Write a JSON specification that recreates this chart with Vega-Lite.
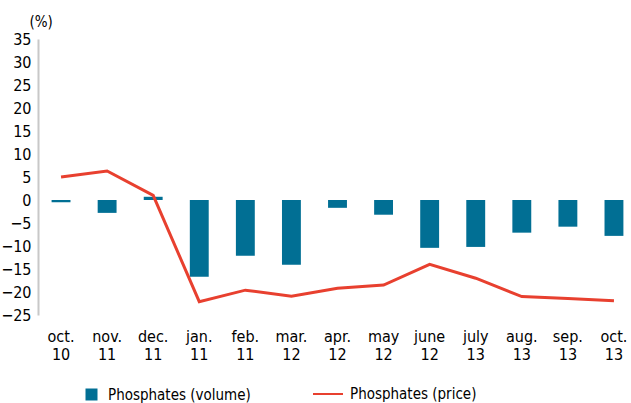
{
  "$schema": "https://vega.github.io/schema/vega-lite/v6.json",
  "autosize": "none",
  "padding": {"left": 38, "top": 39, "right": 0, "bottom": 88},
  "width": 599,
  "height": 276,
  "title": {
    "text": "Exports",
    "font": "DejaVu Serif",
    "fontSize": 22,
    "fontWeight": "bold",
    "color": "#000000",
    "anchor": "middle",
    "baseline": "alphabetic",
    "offset": 38,
    "dx": -22
  },
  "config": {
    "view": {"stroke": null},
    "font": "DejaVu Sans Condensed, DejaVu Sans, sans-serif",
    "axis": {"grid": false, "labelOverlap": false, "labelFont": "DejaVu Sans Condensed, DejaVu Sans, sans-serif", "titleFont": "DejaVu Sans Condensed, DejaVu Sans, sans-serif"},
    "axisY": {"labelOverlap": false},
    "legend": {"labelFont": "DejaVu Sans Condensed, DejaVu Sans, sans-serif"}
  },
  "data": {
    "values": [
      {"month": "oct. 10", "volume": -0.5, "price": 5.0},
      {"month": "nov. 11", "volume": -2.8, "price": 6.3},
      {"month": "dec. 11", "volume": 0.7, "price": 1.0},
      {"month": "jan. 11", "volume": -16.7, "price": -22.1},
      {"month": "feb. 11", "volume": -12.1, "price": -19.6},
      {"month": "mar. 12", "volume": -14.1, "price": -20.9},
      {"month": "apr. 12", "volume": -1.7, "price": -19.2},
      {"month": "may 12", "volume": -3.2, "price": -18.5},
      {"month": "june 12", "volume": -10.4, "price": -14.0},
      {"month": "july 13", "volume": -10.2, "price": -17.0},
      {"month": "aug. 13", "volume": -7.1, "price": -21.0},
      {"month": "sep. 13", "volume": -5.8, "price": -21.4},
      {"month": "oct. 13", "volume": -7.8, "price": -21.9}
    ]
  },
  "encoding": {
    "x": {
      "field": "month",
      "type": "nominal",
      "sort": null,
      "scale": {"paddingInner": 0.59, "paddingOuter": 0.295},
      "axis": {
        "title": null,
        "domain": false,
        "ticks": false,
        "labelAngle": 0,
        "labelFontSize": 16,
        "labelColor": "#000000",
        "labelBaseline": "top",
        "labelPadding": 13,
        "labelLineHeight": 18,
        "labelExpr": "split(datum.label, ' ')"
      }
    },
    "y": {
      "type": "quantitative",
      "scale": {"domain": [-25, 35], "nice": false},
      "axis": {
        "values": [-25, -20, -15, -10, -5, 0, 5, 10, 15, 20, 25, 30, 35],
        "labelOverlap": false,
        "title": "(%)",
        "titleAngle": 0,
        "titleAlign": "left",
        "titleBaseline": "middle",
        "titleX": -9,
        "titleY": -18,
        "titleFontSize": 15,
        "titleFontWeight": "normal",
        "titleColor": "#000000",
        "labelFontSize": 16,
        "labelColor": "#000000",
        "labelPadding": 7,
        "ticks": false,
        "domainColor": "#c8c8c8",
        "domainWidth": 2
      }
    }
  },
  "layer": [
    {
      "mark": {"type": "bar"},
      "encoding": {
        "y": {"field": "volume"},
        "fill": {
          "datum": "Phosphates (volume)",
          "type": "nominal",
          "scale": {"domain": ["Phosphates (volume)"], "range": ["#016f94"]},
          "legend": {
            "title": null,
            "orient": "none",
            "legendX": 46,
            "legendY": 348,
            "symbolType": "square",
            "symbolSize": 144,
            "labelFontSize": 15,
            "labelColor": "#000000",
            "labelOffset": 9
          }
        }
      }
    },
    {
      "mark": {"type": "rule", "color": "#c8c8c8", "strokeWidth": 2},
      "encoding": {"y": {"datum": 0}}
    },
    {
      "mark": {"type": "line", "strokeWidth": 3},
      "encoding": {
        "y": {"field": "price"},
        "stroke": {
          "datum": "Phosphates (price)",
          "type": "nominal",
          "scale": {"domain": ["Phosphates (price)"], "range": ["#e8402f"]},
          "legend": {
            "title": null,
            "orient": "none",
            "legendX": 274,
            "legendY": 339,
            "symbolType": "stroke",
            "symbolSize": 900,
            "symbolStrokeWidth": 2,
            "labelFontSize": 15,
            "labelColor": "#000000",
            "labelOffset": 6
          }
        }
      }
    }
  ]
}
